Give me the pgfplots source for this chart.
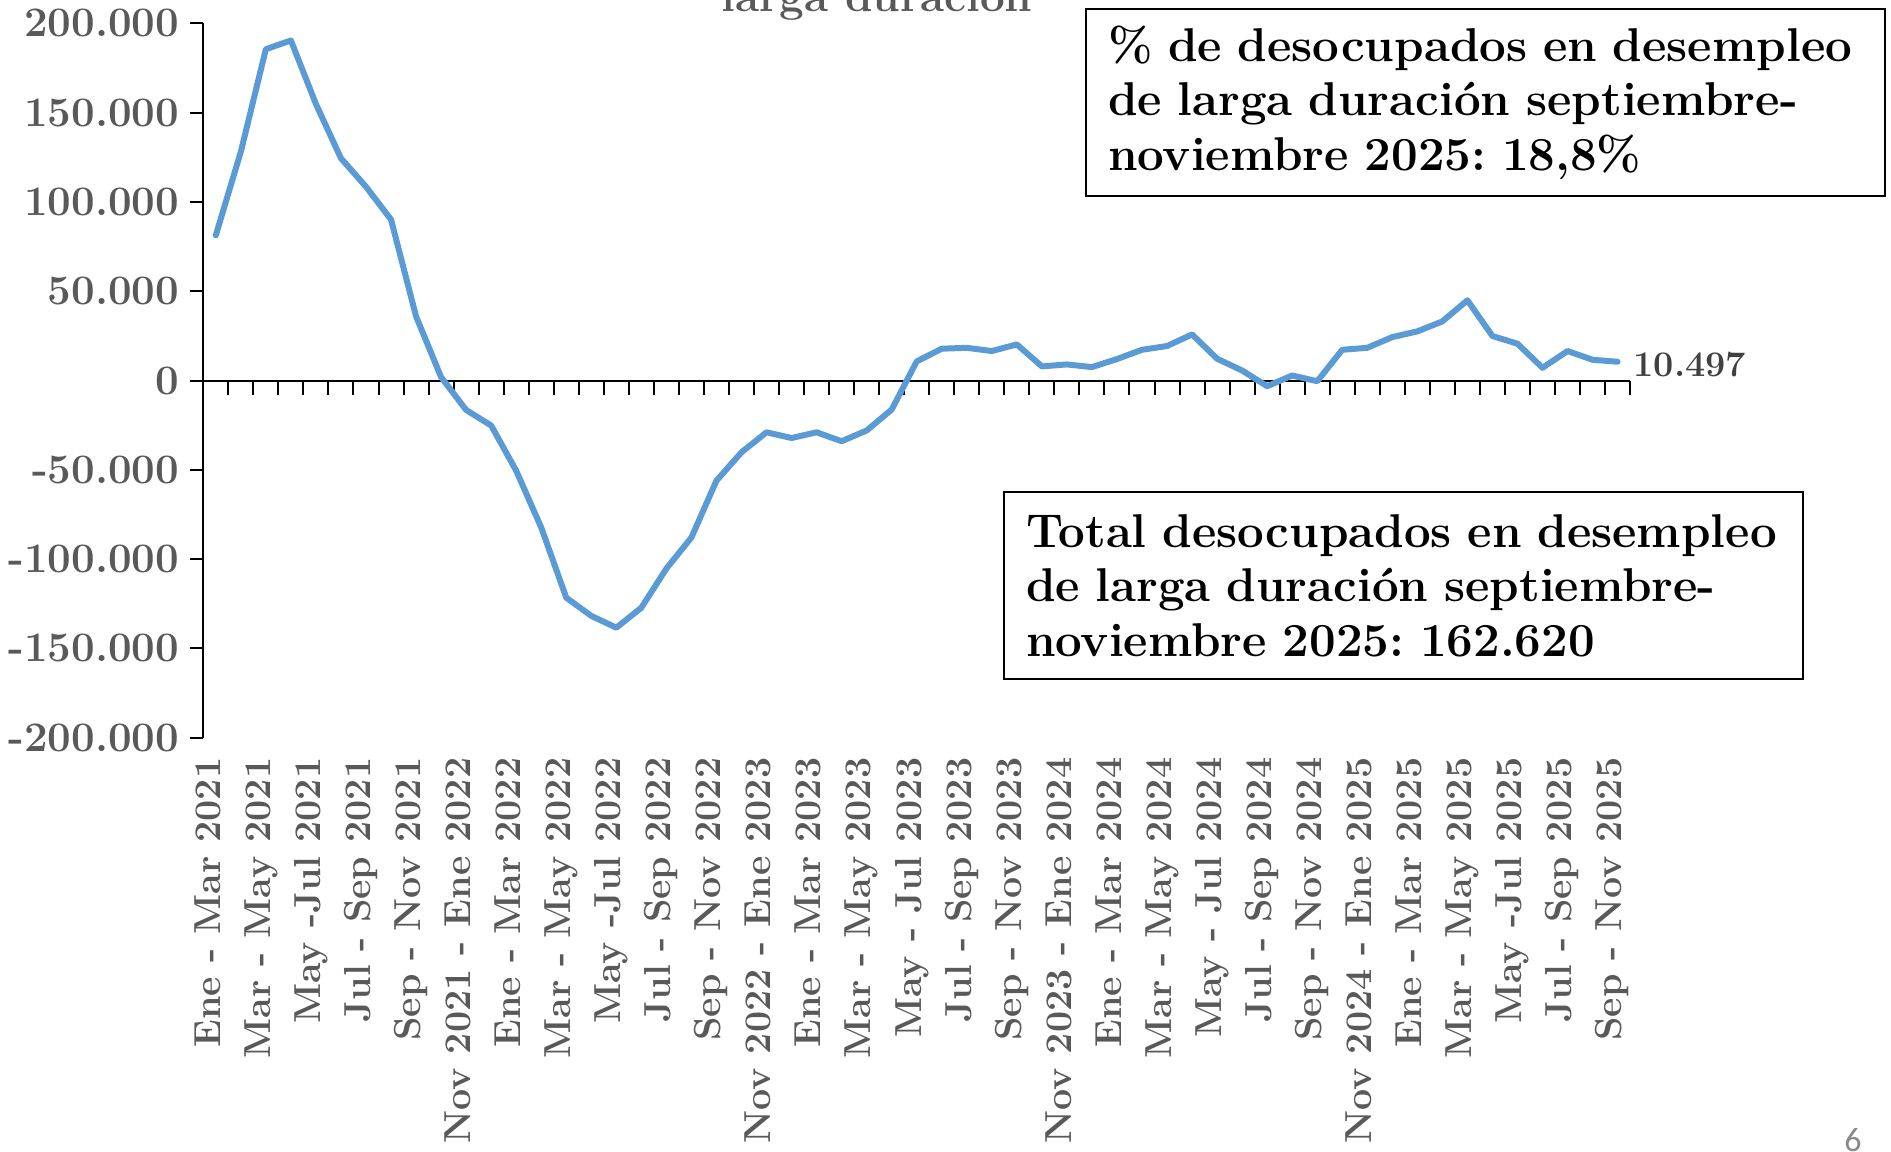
\documentclass[border=0pt]{standalone}
\usepackage{fontspec}
\newfontfamily\carlito{Carlito}
\usepackage{pgfplots}
\pgfplotsset{compat=1.18}
\definecolor{lineblue}{RGB}{91,155,213}
\definecolor{tickgray}{RGB}{89,89,89}
\definecolor{labelgray}{RGB}{64,64,64}
\definecolor{pagegray}{RGB}{137,137,137}
\frenchspacing
\begin{document}
\begin{tikzpicture}[x=1bp,y=1bp]
\begin{axis}[
  at={(0,0)}, anchor=south west,
  scale only axis, width=713.4bp, height=357.2bp,
  xmin=-0.5, xmax=56.5, ymin=-200000, ymax=200000,
  axis x line=bottom, axis y line=left,
  axis line style={-, line width=1bp, black},
  x axis line style={draw=none},
  tick align=outside,
  major tick length=6.5bp,
  xtick={0,2,...,56},
  xticklabels={Ene - Mar 2021, Mar - May 2021, May -Jul 2021, Jul - Sep 2021, Sep - Nov 2021, Nov 2021 - Ene 2022, Ene - Mar 2022, Mar - May 2022, May -Jul 2022, Jul - Sep 2022, Sep - Nov 2022, Nov 2022 - Ene 2023, Ene - Mar 2023, Mar - May 2023, May - Jul 2023, Jul - Sep 2023, Sep - Nov 2023, Nov 2023 - Ene 2024, Ene - Mar 2024, Mar - May 2024, May - Jul 2024, Jul - Sep 2024, Sep - Nov 2024, Nov 2024 - Ene 2025, Ene - Mar 2025, Mar - May 2025, May -Jul 2025, Jul - Sep 2025, Sep - Nov 2025},
  xtick style={draw=none},
  ytick={-200000,-150000,-100000,-50000,0,50000,100000,150000,200000},
  yticklabels={-200.000,-150.000,-100.000,-50.000,0,50.000,100.000,150.000,200.000},
  ytick style={black, line width=1bp},
  yticklabel style={font=\fontsize{21bp}{25bp}\selectfont\bfseries, text=tickgray, xshift=-2bp},
  xticklabel style={font=\fontsize{18.8bp}{22bp}\selectfont\bfseries, text=tickgray, rotate=90, anchor=mid east},
  scaled y ticks=false,
  clip=false,
]
\draw[black, line width=1bp] (axis cs:-0.5,0) -- (axis cs:56.5,0);
\pgfplotsinvokeforeach{-0.5,0.5,...,56.5}{\draw[black, line width=1bp] (axis cs:#1,0) -- ++(0pt,-7bp);}
\addplot[lineblue, line width=3bp, line join=round, line cap=round, mark=none] coordinates {
(0,81300) (1,128100) (2,185500) (3,190400) (4,154800) (5,124400) (6,108500) (7,90100)
(8,35900) (9,1900) (10,-16500) (11,-25200) (12,-50500) (13,-82300) (14,-121600) (15,-131800)
(16,-138400) (17,-127200) (18,-105300) (19,-87900) (20,-56100) (21,-40200) (22,-29000) (23,-32200)
(24,-29000) (25,-34000) (26,-28000) (27,-16300) (28,10700) (29,17800) (30,18300) (31,16500)
(32,20200) (33,7900) (34,9000) (35,7500) (36,12000) (37,17200) (38,19300) (39,25800)
(40,12200) (41,5600) (42,-3200) (43,2800) (44,-400) (45,17200) (46,18300) (47,24300)
(48,27500) (49,33100) (50,44900) (51,24900) (52,20600) (53,7100) (54,16500) (55,11600)
(56,10497)
};
\addplot[draw=none, mark=none, nodes near coords={10.497}, nodes near coords align=horizontal,
  every node near coord/.append style={font=\fontsize{18bp}{22bp}\selectfont\bfseries, text=labelgray, xshift=4.5bp, yshift=-1.5bp}]
  coordinates {(56,10497)};
\end{axis}
\node[draw=black, line width=1bp, anchor=north west, minimum width=399.5bp, minimum height=93.5bp, text width=377.5bp, inner xsep=10bp, inner ysep=0pt, align=left, font=\fontsize{23.7bp}{27.2bp}\selectfont\bfseries] at (440.85bp,364.85bp) {\% de desocupados en desempleo\\ de larga duración septiembre-\\ noviembre 2025: 18,8\%};
\node[draw=black, line width=1bp, anchor=north west, minimum width=399.5bp, minimum height=93.5bp, text width=377.5bp, inner xsep=10bp, inner ysep=0pt, align=left, font=\fontsize{23.7bp}{27.2bp}\selectfont\bfseries] at (399.85bp,123.35bp) {Total desocupados en desempleo\\ de larga duración septiembre-\\ noviembre 2025: 162.620};
\node[anchor=base, font=\fontsize{22bp}{26bp}\selectfont\bfseries, text=tickgray] at (336.85bp,362.85bp) {larga duración};
\node[font=\carlito\fontsize{17bp}{20bp}\selectfont, text=pagegray] at (824.85bp,-201.15bp) {6};
\pgfresetboundingbox
\useasboundingbox (-101.65bp,-207.15bp) rectangle (843.85bp,368.85bp);
\end{tikzpicture}
\end{document}
